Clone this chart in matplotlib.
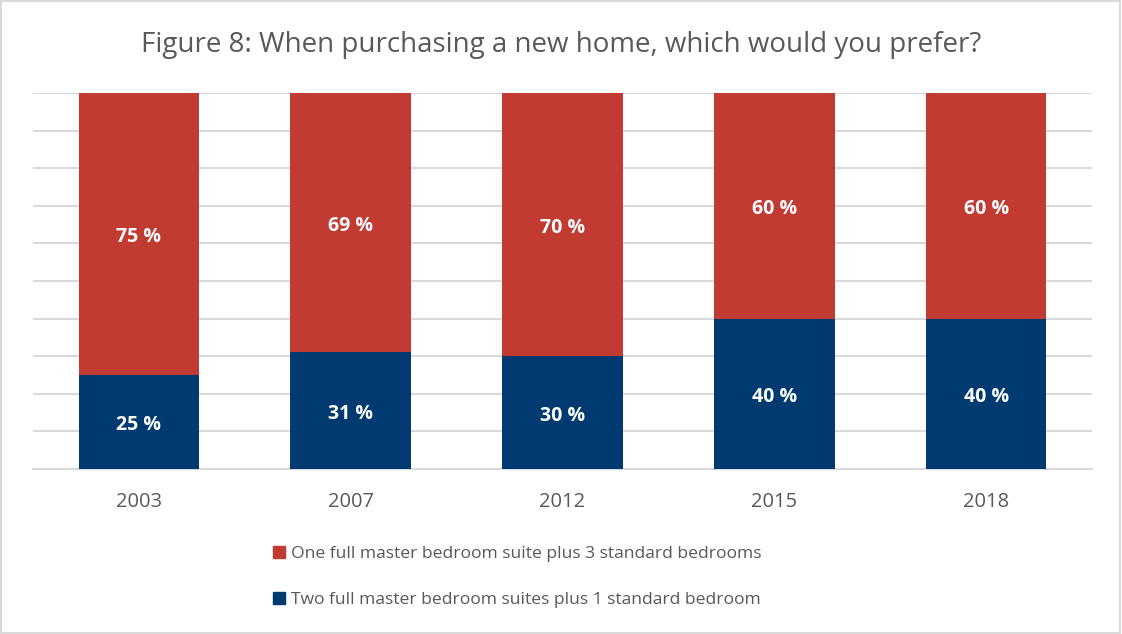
import matplotlib.pyplot as plt
from matplotlib.patches import Patch

years = ['2003', '2007', '2012', '2015', '2018']
two_suites = [25, 31, 30, 40, 40]
one_suite = [75, 69, 70, 60, 60]
labels = ['One full master bedroom suite plus 3 standard bedrooms',
          'Two full master bedroom suites plus 1 standard bedroom']

red = '#C23B33'
navy = '#003A70'
grey = '#595959'

plt.rcParams['font.family'] = ['Open Sans', 'DejaVu Sans']

fig = plt.figure(figsize=(11.22, 6.34), dpi=100)
ax = fig.add_axes([33 / 1122, 165 / 634, 1059 / 1122, 376 / 634])

x = range(len(years))
ax.bar(x, two_suites, width=0.57, color=navy, zorder=3)
ax.bar(x, one_suite, width=0.57, bottom=two_suites, color=red, zorder=3)

# value labels in the middle of each segment (nudged down a few px like the original)
for i in x:
    ax.annotate(f'{two_suites[i]} %', (i, two_suites[i] / 2), xytext=(0, -3),
                textcoords='offset pixels', ha='center', va='center',
                color='white', fontsize=14, fontweight='bold', zorder=4)
    ax.annotate(f'{one_suite[i]} %', (i, two_suites[i] + one_suite[i] / 2), xytext=(0, -3),
                textcoords='offset pixels', ha='center', va='center',
                color='white', fontsize=14, fontweight='bold', zorder=4)

ax.set_xlim(-0.5, 4.5)
ax.set_ylim(0, 100)
ax.set_yticks(range(0, 101, 10))
ax.yaxis.grid(True, color='#D9D9D9', linewidth=1.5, zorder=0)
ax.tick_params(axis='y', left=False, labelleft=False)
ax.tick_params(axis='x', bottom=False, labelsize=14.5, labelcolor=grey, pad=13)
ax.set_xticks(list(x))
ax.set_xticklabels(years)
for s in ['top', 'right', 'left']:
    ax.spines[s].set_visible(False)
ax.spines['bottom'].set_color('#D9D9D9')
ax.spines['bottom'].set_linewidth(1.5)

fig.text(0.5, 1 - 45 / 634, 'Figure 8: When purchasing a new home, which would you prefer?',
         ha='center', va='center', fontsize=20, color=grey)

handles = [Patch(color=red), Patch(color=navy)]
fig.legend(handles, labels, loc='center', bbox_to_anchor=(0.461, 1 - 577 / 634),
           ncol=1, frameon=False, fontsize=12.6, labelcolor=grey,
           handlelength=0.7, handleheight=0.7, handletextpad=0.3, labelspacing=1.7)

fig.patches.append(plt.Rectangle((0.001, 0.001), 0.997, 0.997, transform=fig.transFigure,
                                 fill=False, edgecolor='#D9D9D9', linewidth=1.5))

fig.savefig('out.png', dpi=100)
